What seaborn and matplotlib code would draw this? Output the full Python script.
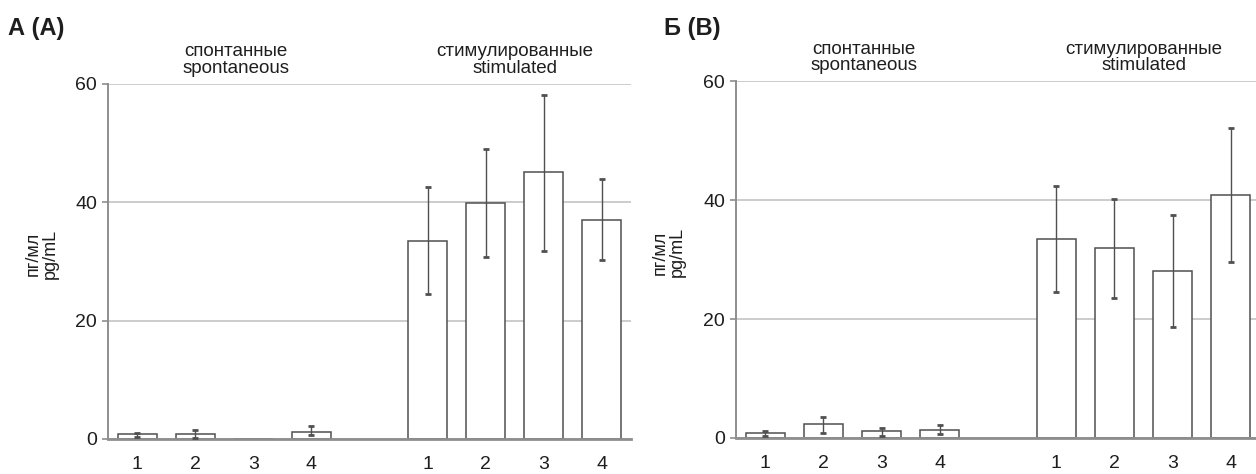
import numpy as np
import pandas as pd
import seaborn as sns
import matplotlib.pyplot as plt

# categories: 4 spontaneous, an empty slot, 4 stimulated
CATEGORIES = ["sp1", "sp2", "sp3", "sp4", "gap", "st1", "st2", "st3", "st4"]
TICK_LABELS = ["1", "2", "3", "4", "", "1", "2", "3", "4"]

# panel A (A)
A_MEAN = [0.8, 0.8, 0.0, 1.2, np.nan, 33.5, 39.8, 45.1, 37.0]
A_LOW = [0.3, 0.2, np.nan, 0.6, np.nan, 24.5, 30.7, 31.8, 30.2]
A_HIGH = [1.0, 1.5, np.nan, 2.1, np.nan, 42.5, 49.0, 58.2, 43.9]

# panel Б (B)
B_MEAN = [0.8, 2.3, 1.1, 1.3, np.nan, 33.5, 32.0, 28.0, 40.8]
B_LOW = [0.4, 0.9, 0.3, 0.7, np.nan, 24.5, 23.6, 18.6, 29.5]
B_HIGH = [1.1, 3.6, 1.7, 2.2, np.nan, 42.4, 40.2, 37.4, 52.1]

Y_TICKS = [0, 20, 40, 60]
GROUP_TITLES = ["спонтанные\nspontaneous", "стимулированные\nstimulated"]
Y_LABEL = "пг/мл\npg/mL"

sns.set_theme(style="white")
plt.rcParams["font.family"] = ["Liberation Sans", "DejaVu Sans"]

AXIS_GRAY = "#8e8e8e"
EDGE = "#505050"
TEXT = "#1e1e1e"


def panel(ax, means, low, high, letter, letter_x):
    df = pd.DataFrame({"cat": CATEGORIES, "val": means})
    ax.set_axisbelow(True)
    ax.yaxis.grid(True, color="#cccccc", linewidth=1.4)

    sns.barplot(data=df, x="cat", y="val", order=CATEGORIES, color="white",
                saturation=1, edgecolor=EDGE, linewidth=1.1, width=0.67,
                errorbar=None, ax=ax)

    m = np.array(means)
    lo = np.array(low)
    hi = np.array(high)
    pos = np.arange(len(CATEGORIES))
    ok = ~np.isnan(lo)
    ax.errorbar(pos[ok], m[ok], yerr=[m[ok] - lo[ok], hi[ok] - m[ok]], fmt="none",
                ecolor=EDGE, elinewidth=1.0, capsize=2.5, capthick=2.0, zorder=5)

    ax.set_xlim(-0.5, len(CATEGORIES) - 0.5)
    ax.set_ylim(0, 60)
    ax.set_yticks(Y_TICKS)
    ax.set_xticks(pos)
    ax.set_xticklabels(TICK_LABELS)
    ax.set_xticks(np.arange(-0.5, len(CATEGORIES)), minor=True)
    ax.tick_params(axis="x", which="major", length=0, pad=12.5, labelsize=14, labelcolor=TEXT)
    ax.tick_params(axis="x", which="minor", length=8, width=1.4, color=AXIS_GRAY, direction="out")
    ax.tick_params(axis="y", length=4, width=1.2, color=AXIS_GRAY, pad=4,
                   labelsize=14, labelcolor=TEXT, left=True)
    ax.set_xlabel("")
    ax.set_ylabel(Y_LABEL, fontsize=13, color=TEXT, linespacing=1.0)
    ax.yaxis.set_label_coords(-0.095, 0.52)

    sns.despine(ax=ax)
    ax.spines["left"].set_color(AXIS_GRAY)
    ax.spines["left"].set_linewidth(1.4)
    ax.spines["bottom"].set_color(AXIS_GRAY)
    ax.spines["bottom"].set_linewidth(2.0)

    ax.text(1.7, 61.2, GROUP_TITLES[0], ha="center", va="bottom", fontsize=13.5,
            linespacing=0.95, color=TEXT)
    ax.text(6.5, 61.2, GROUP_TITLES[1], ha="center", va="bottom", fontsize=13.5,
            linespacing=0.95, color=TEXT)
    fig.text(letter_x, 0.965, letter, ha="left", va="top", fontsize=17,
             fontweight="bold", color=TEXT)


fig = plt.figure(figsize=(12.56, 4.74), dpi=100)
ax_a = fig.add_axes([0.086, 0.074, 0.4164, 0.749])
ax_b = fig.add_axes([0.586, 0.076, 0.4172, 0.753])

panel(ax_a, A_MEAN, A_LOW, A_HIGH, "А (A)", 0.006)
panel(ax_b, B_MEAN, B_LOW, B_HIGH, "Б (B)", 0.529)

fig.savefig("out.png", dpi=100)
